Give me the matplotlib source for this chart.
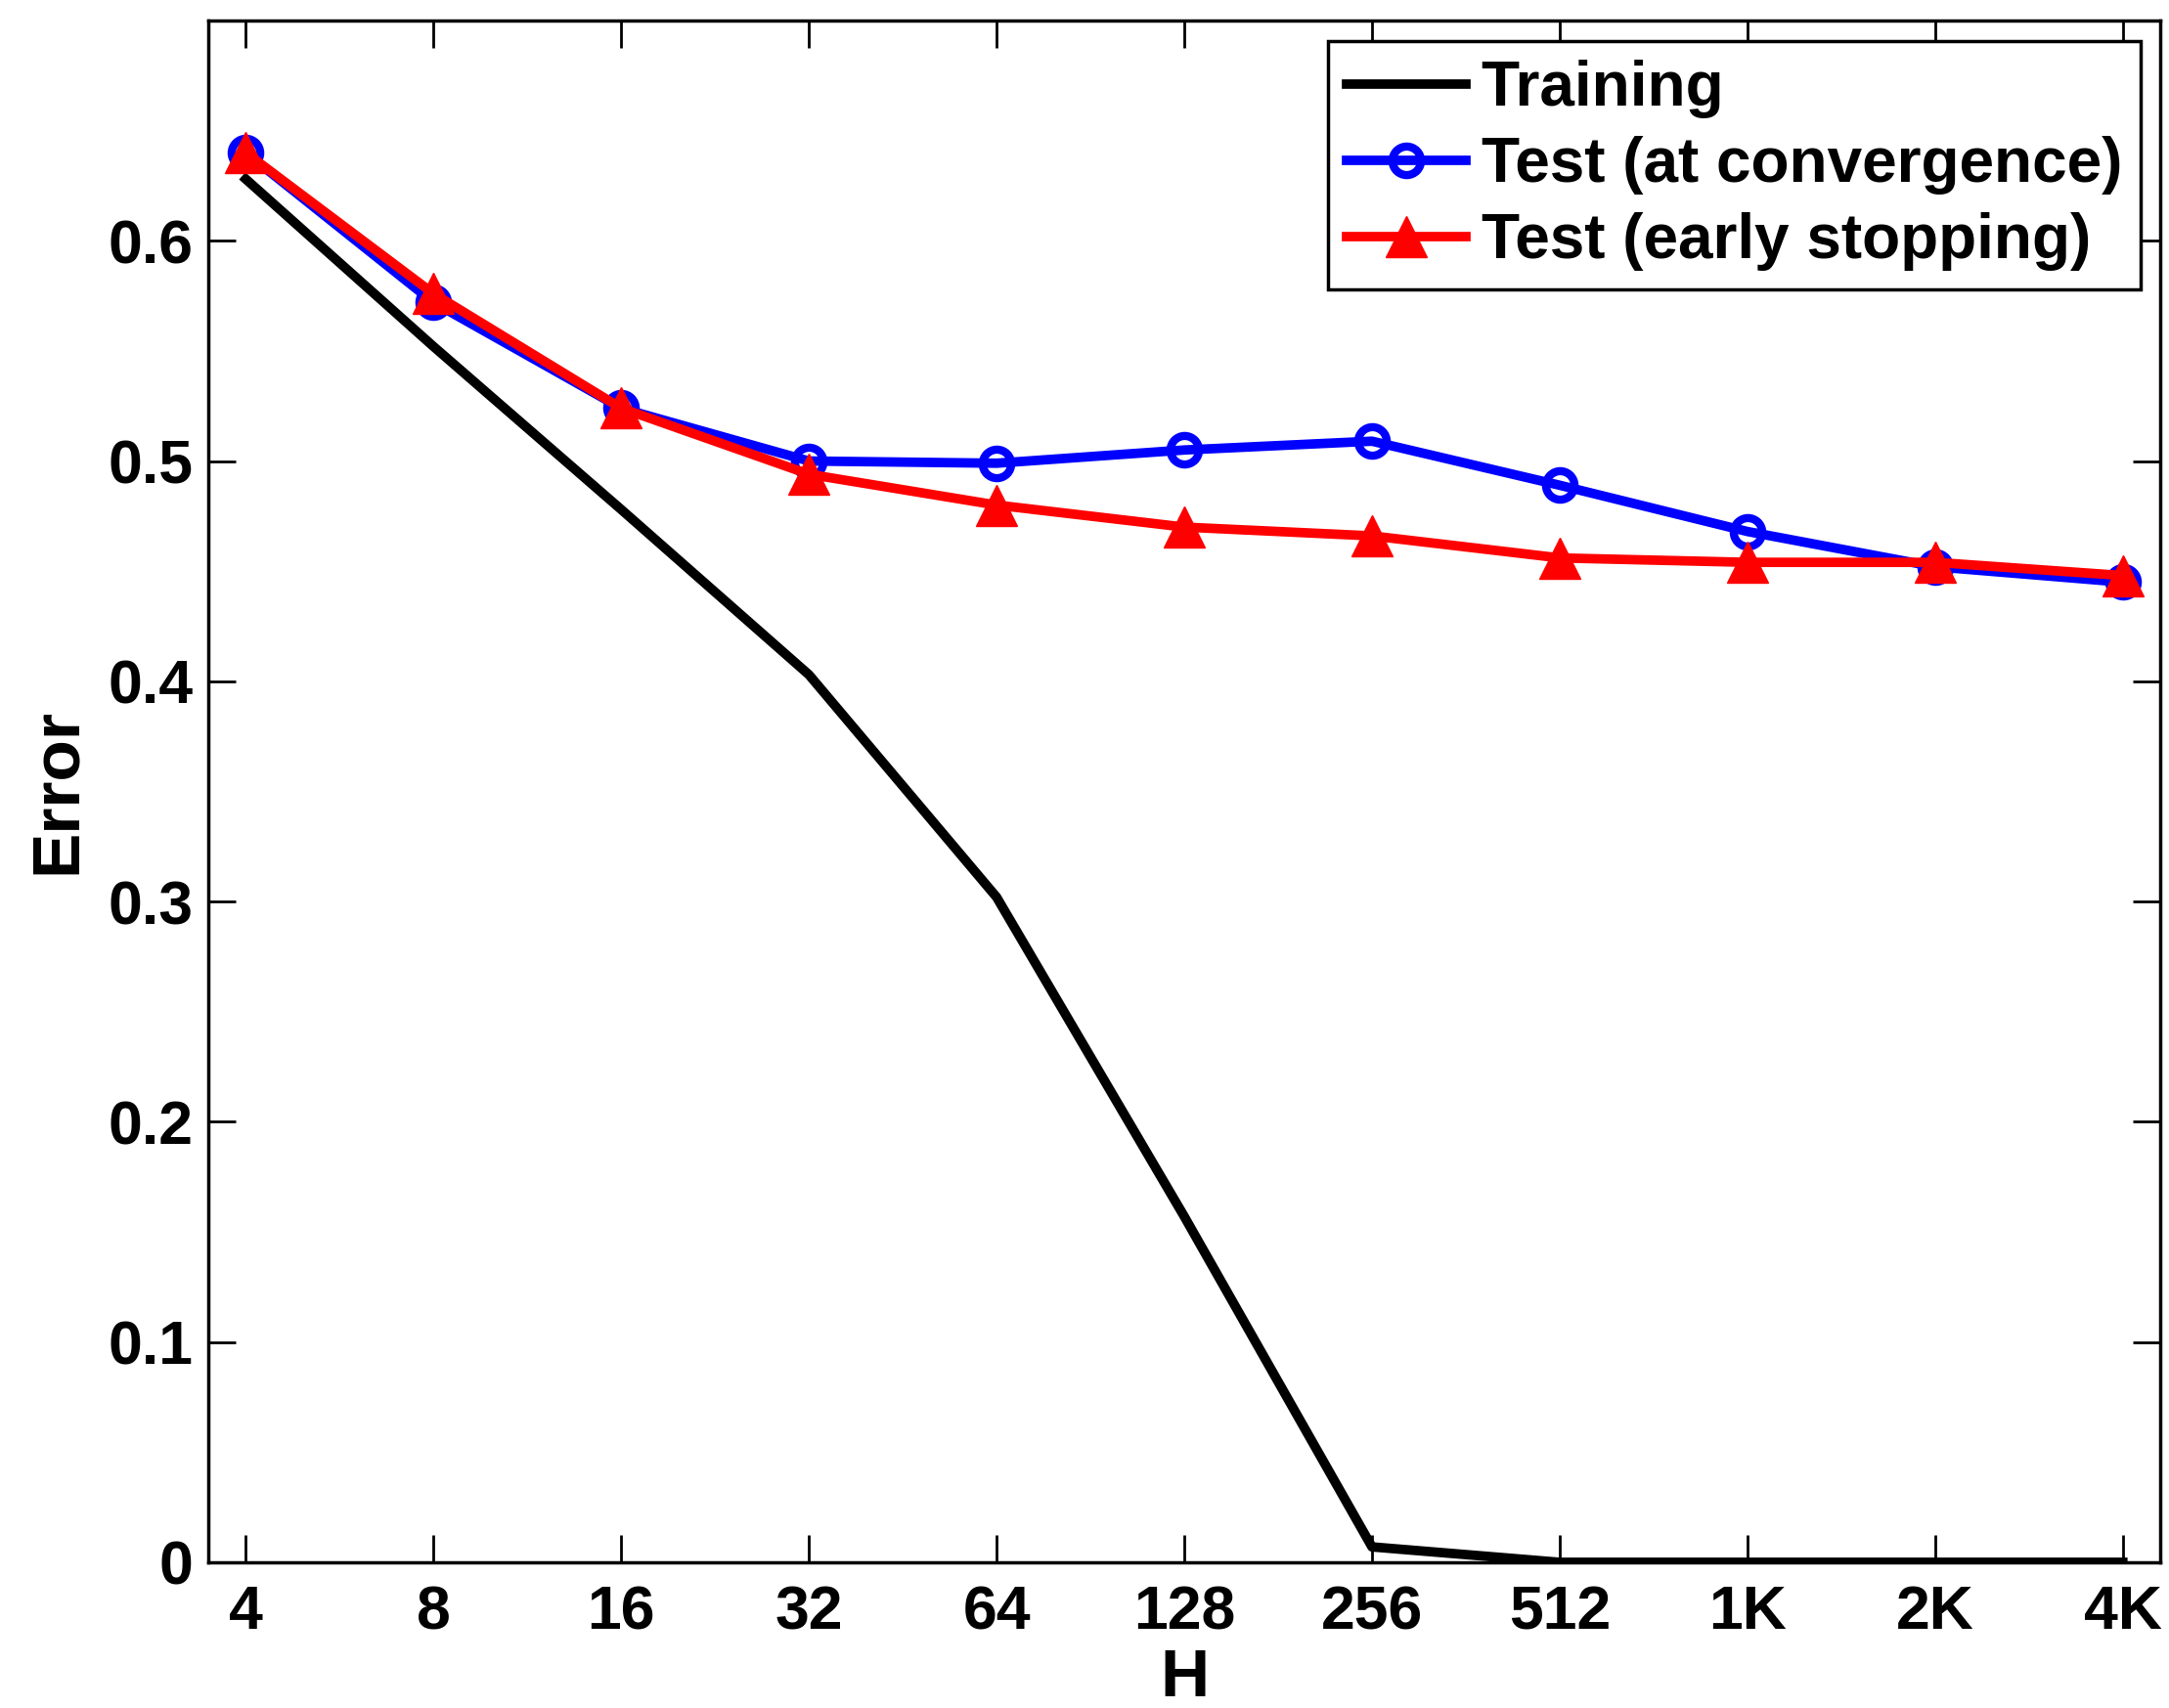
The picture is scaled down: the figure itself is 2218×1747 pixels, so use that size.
import matplotlib
matplotlib.use('Agg')
import matplotlib.pyplot as plt

# hidden units H (log2 spaced), shown as category positions
hLabels = ['4', '8', '16', '32', '64', '128', '256', '512', '1K', '2K', '4K']

errTrain = [0.628, 0.552, 0.478, 0.403, 0.302, 0.157, 0.007, 0.0, 0.0, 0.0, 0.0]
errTestConv = [0.640, 0.572, 0.524, 0.500, 0.499, 0.505, 0.509, 0.489, 0.468, 0.452, 0.445]
errTestEarly = [0.640, 0.576, 0.524, 0.494, 0.480, 0.470, 0.466, 0.456, 0.454, 0.454, 0.448]

plt.rcParams['font.family'] = ['Liberation Sans', 'DejaVu Sans']
plt.rcParams['font.weight'] = 'bold'

fig = plt.figure(figsize=(22.18, 17.47), dpi=100)
ax = fig.add_axes([0.096, 0.0853, 0.900, 0.9027])

x = list(range(len(hLabels)))
ax.plot(x, errTrain, 'k-', linewidth=7, label='Training')
ax.plot(x, errTestConv, 'b-o', linewidth=7, markersize=21, markerfacecolor='none',
	markeredgewidth=6, label='Test (at convergence)')
ax.plot(x, errTestEarly, 'r-^', linewidth=7, markersize=30, label='Test (early stopping)')

ax.set_xlim(-0.2, 10.2)
ax.set_ylim(0, 0.7)
ax.set_xticks(x)
ax.set_xticklabels(hLabels)
ax.set_yticks([0, 0.1, 0.2, 0.3, 0.4, 0.5, 0.6])
ax.set_yticklabels(['0', '0.1', '0.2', '0.3', '0.4', '0.5', '0.6'])
ax.tick_params(direction='in', length=20, width=2, labelsize=45, top=True, right=True)
ax.tick_params(axis='y', pad=11)
ax.tick_params(axis='x', pad=16)
for s in ax.spines.values():
	s.set_linewidth(2.5)

ax.set_xlabel('H', fontsize=50, fontweight='bold', labelpad=4)
ax.set_ylabel('Error', fontsize=50, fontweight='bold', labelpad=14)

leg = ax.legend(loc='upper right', fontsize=46, handlelength=1.9, handletextpad=0.25,
	borderpad=0.3, labelspacing=0.28, fancybox=False, framealpha=1,
	borderaxespad=0, bbox_to_anchor=(0.990, 0.9865))
leg.get_frame().set_edgecolor('black')
leg.get_frame().set_linewidth(2.5)

plt.savefig('out.png')
